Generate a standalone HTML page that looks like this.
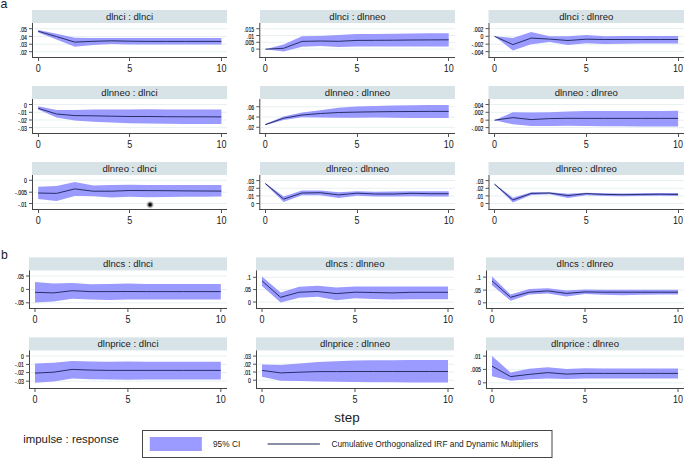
<!DOCTYPE html>
<html><head><meta charset="utf-8"><style>
html,body{margin:0;padding:0;background:#fff;}
svg{display:block;}
text{font-family:"Liberation Sans", sans-serif;fill:#1a1a1a;}
.ht{font-size:9.55px;text-anchor:middle;}
.yt{font-size:6.4px;text-anchor:end;fill:#000;stroke:#000;stroke-width:0.12px;}
.xt{font-size:10px;text-anchor:middle;}
</style></head><body>
<svg width="685" height="459" viewBox="0 0 685 459">
<rect width="685" height="459" fill="#fff"/>
<text x="0.4" y="8.3" style="font-size:13.3px" textLength="6.9" lengthAdjust="spacingAndGlyphs">a</text>
<text x="1.0" y="259" style="font-size:13.2px" textLength="6.8" lengthAdjust="spacingAndGlyphs">b</text>
<rect x="32" y="10" width="195" height="13" fill="#d8e3e8"/>
<text x="129.5" y="19.9" class="ht">dlnci : dlnci</text>
<line x1="33.5" x2="227" y1="28.7" y2="28.7" stroke="#e8f0f1" stroke-width="1"/>
<line x1="33.5" x2="227" y1="36.4" y2="36.4" stroke="#e8f0f1" stroke-width="1"/>
<line x1="33.5" x2="227" y1="44.2" y2="44.2" stroke="#e8f0f1" stroke-width="1"/>
<line x1="33.5" x2="227" y1="51.7" y2="51.7" stroke="#e8f0f1" stroke-width="1"/>
<polygon points="38.2,29.9 56.52,33.8 74.84,37.8 93.16,38 111.48,38 129.8,38.1 148.12,38.1 166.44,38.1 184.76,38.1 203.08,38.1 221.4,38.1 221.4,44.6 203.08,44.6 184.76,44.6 166.44,44.6 148.12,44.6 129.8,44.4 111.48,43.9 93.16,45 74.84,46.8 56.52,39.6 38.2,32.5" fill="#9a9aff"/>
<polyline points="38.2,31.2 56.52,36.6 74.84,42.1 93.16,41.3 111.48,40.8 129.8,41.2 148.12,41.4 166.44,41.4 184.76,41.4 203.08,41.4 221.4,41.4" fill="none" stroke="#1a2258" stroke-width="0.9" stroke-linejoin="round"/>
<line x1="32.5" x2="32.5" y1="23" y2="58" stroke="#454545" stroke-width="1"/>
<line x1="32" x2="227" y1="57.5" y2="57.5" stroke="#454545" stroke-width="1"/>
<line x1="29" x2="32.5" y1="28.7" y2="28.7" stroke="#555555" stroke-width="1"/>
<text x="26.9" y="31.8" class="yt" textLength="7.19" lengthAdjust="spacingAndGlyphs">.05</text>
<line x1="29" x2="32.5" y1="36.4" y2="36.4" stroke="#555555" stroke-width="1"/>
<text x="26.9" y="39.5" class="yt" textLength="7.19" lengthAdjust="spacingAndGlyphs">.04</text>
<line x1="29" x2="32.5" y1="44.2" y2="44.2" stroke="#555555" stroke-width="1"/>
<text x="26.9" y="47.3" class="yt" textLength="7.19" lengthAdjust="spacingAndGlyphs">.03</text>
<line x1="29" x2="32.5" y1="51.7" y2="51.7" stroke="#555555" stroke-width="1"/>
<text x="26.9" y="54.8" class="yt" textLength="7.19" lengthAdjust="spacingAndGlyphs">.02</text>
<line x1="38.5" x2="38.5" y1="57.5" y2="61" stroke="#555555" stroke-width="1"/>
<text x="38.2" y="71.6" class="xt" textLength="5" lengthAdjust="spacingAndGlyphs">0</text>
<line x1="129.5" x2="129.5" y1="57.5" y2="61" stroke="#555555" stroke-width="1"/>
<text x="129.8" y="71.6" class="xt" textLength="5" lengthAdjust="spacingAndGlyphs">5</text>
<line x1="221.5" x2="221.5" y1="57.5" y2="61" stroke="#555555" stroke-width="1"/>
<text x="221.4" y="71.6" class="xt" textLength="10.01" lengthAdjust="spacingAndGlyphs">10</text>
<rect x="260" y="10" width="195" height="13" fill="#d8e3e8"/>
<text x="357.5" y="19.9" class="ht">dlnci : dlnneo</text>
<line x1="260.8" x2="455" y1="28.7" y2="28.7" stroke="#e8f0f1" stroke-width="1"/>
<line x1="260.8" x2="455" y1="35.5" y2="35.5" stroke="#e8f0f1" stroke-width="1"/>
<line x1="260.8" x2="455" y1="42.3" y2="42.3" stroke="#e8f0f1" stroke-width="1"/>
<line x1="260.8" x2="455" y1="49.1" y2="49.1" stroke="#e8f0f1" stroke-width="1"/>
<polygon points="265.3,49.2 283.64,44.6 301.98,36.2 320.32,35.9 338.66,35.1 357,34.1 375.34,33.9 393.68,33.7 412.02,33.5 430.36,33.3 448.7,33.2 448.7,46.5 430.36,46.5 412.02,46.5 393.68,46.5 375.34,46.5 357,46.5 338.66,47.1 320.32,46.1 301.98,46.8 283.64,51.6 265.3,49.2" fill="#9a9aff"/>
<polyline points="265.3,49.2 283.64,48.3 301.98,41.4 320.32,41 338.66,41.3 357,40.4 375.34,40.3 393.68,40.2 412.02,40 430.36,39.9 448.7,39.8" fill="none" stroke="#1a2258" stroke-width="0.9" stroke-linejoin="round"/>
<line x1="259.8" x2="259.8" y1="23" y2="58" stroke="#454545" stroke-width="1"/>
<line x1="259.3" x2="455" y1="57.5" y2="57.5" stroke="#454545" stroke-width="1"/>
<line x1="256.3" x2="259.8" y1="28.7" y2="28.7" stroke="#555555" stroke-width="1"/>
<text x="254.2" y="31.8" class="yt" textLength="10.06" lengthAdjust="spacingAndGlyphs">.015</text>
<line x1="256.3" x2="259.8" y1="35.5" y2="35.5" stroke="#555555" stroke-width="1"/>
<text x="254.2" y="38.6" class="yt" textLength="7.19" lengthAdjust="spacingAndGlyphs">.01</text>
<line x1="256.3" x2="259.8" y1="42.3" y2="42.3" stroke="#555555" stroke-width="1"/>
<text x="254.2" y="45.4" class="yt" textLength="10.06" lengthAdjust="spacingAndGlyphs">.005</text>
<line x1="256.3" x2="259.8" y1="49.1" y2="49.1" stroke="#555555" stroke-width="1"/>
<text x="254.2" y="52.2" class="yt" textLength="2.88" lengthAdjust="spacingAndGlyphs">0</text>
<line x1="265.5" x2="265.5" y1="57.5" y2="61" stroke="#555555" stroke-width="1"/>
<text x="265.3" y="71.6" class="xt" textLength="5" lengthAdjust="spacingAndGlyphs">0</text>
<line x1="357.5" x2="357.5" y1="57.5" y2="61" stroke="#555555" stroke-width="1"/>
<text x="357" y="71.6" class="xt" textLength="5" lengthAdjust="spacingAndGlyphs">5</text>
<line x1="448.5" x2="448.5" y1="57.5" y2="61" stroke="#555555" stroke-width="1"/>
<text x="448.7" y="71.6" class="xt" textLength="10.01" lengthAdjust="spacingAndGlyphs">10</text>
<rect x="488.5" y="10" width="195.5" height="13" fill="#d8e3e8"/>
<text x="586.25" y="19.9" class="ht">dlnci : dlnreo</text>
<line x1="490" x2="684" y1="28.6" y2="28.6" stroke="#e8f0f1" stroke-width="1"/>
<line x1="490" x2="684" y1="36.3" y2="36.3" stroke="#e8f0f1" stroke-width="1"/>
<line x1="490" x2="684" y1="44.2" y2="44.2" stroke="#e8f0f1" stroke-width="1"/>
<line x1="490" x2="684" y1="51.6" y2="51.6" stroke="#e8f0f1" stroke-width="1"/>
<polygon points="494.5,36.3 512.86,38.1 531.22,31.9 549.58,36.2 567.94,36.2 586.3,35.1 604.66,36.2 623.02,36 641.38,36 659.74,35.9 678.1,35.9 678.1,43.6 659.74,43.6 641.38,43.6 623.02,43.7 604.66,43.9 586.3,43.2 567.94,45.1 549.58,42.1 531.22,44.3 512.86,50.5 494.5,36.3" fill="#9a9aff"/>
<polyline points="494.5,36.3 512.86,44.6 531.22,38.1 549.58,39.1 567.94,40.5 586.3,39.2 604.66,39.5 623.02,39.5 641.38,39.5 659.74,39.5 678.1,39.5" fill="none" stroke="#1a2258" stroke-width="0.9" stroke-linejoin="round"/>
<line x1="489" x2="489" y1="23" y2="58" stroke="#454545" stroke-width="1"/>
<line x1="488.5" x2="684" y1="57.5" y2="57.5" stroke="#454545" stroke-width="1"/>
<line x1="485.5" x2="489" y1="28.6" y2="28.6" stroke="#555555" stroke-width="1"/>
<text x="483.4" y="31.7" class="yt" textLength="10.06" lengthAdjust="spacingAndGlyphs">.002</text>
<line x1="485.5" x2="489" y1="36.3" y2="36.3" stroke="#555555" stroke-width="1"/>
<text x="483.4" y="39.4" class="yt" textLength="2.88" lengthAdjust="spacingAndGlyphs">0</text>
<line x1="485.5" x2="489" y1="44.2" y2="44.2" stroke="#555555" stroke-width="1"/>
<text x="483.4" y="47.3" class="yt" textLength="11.78" lengthAdjust="spacingAndGlyphs">-.002</text>
<line x1="485.5" x2="489" y1="51.6" y2="51.6" stroke="#555555" stroke-width="1"/>
<text x="483.4" y="54.7" class="yt" textLength="11.78" lengthAdjust="spacingAndGlyphs">-.004</text>
<line x1="494.5" x2="494.5" y1="57.5" y2="61" stroke="#555555" stroke-width="1"/>
<text x="494.5" y="71.6" class="xt" textLength="5" lengthAdjust="spacingAndGlyphs">0</text>
<line x1="586.5" x2="586.5" y1="57.5" y2="61" stroke="#555555" stroke-width="1"/>
<text x="586.3" y="71.6" class="xt" textLength="5" lengthAdjust="spacingAndGlyphs">5</text>
<line x1="678.5" x2="678.5" y1="57.5" y2="61" stroke="#555555" stroke-width="1"/>
<text x="678.1" y="71.6" class="xt" textLength="10.01" lengthAdjust="spacingAndGlyphs">10</text>
<rect x="32" y="86" width="195" height="13" fill="#d8e3e8"/>
<text x="129.5" y="95.9" class="ht">dlnneo : dlnci</text>
<line x1="33.5" x2="227" y1="104.5" y2="104.5" stroke="#e8f0f1" stroke-width="1"/>
<line x1="33.5" x2="227" y1="112.3" y2="112.3" stroke="#e8f0f1" stroke-width="1"/>
<line x1="33.5" x2="227" y1="120" y2="120" stroke="#e8f0f1" stroke-width="1"/>
<line x1="33.5" x2="227" y1="127.6" y2="127.6" stroke="#e8f0f1" stroke-width="1"/>
<polygon points="38.2,106.3 56.52,110.1 74.84,110.1 93.16,109.6 111.48,109.6 129.8,109.6 148.12,109.3 166.44,109.4 184.76,109.5 203.08,109.5 221.4,109.5 221.4,124.1 203.08,124.1 184.76,124 166.44,123.8 148.12,123.6 129.8,123.2 111.48,122.6 93.16,121.7 74.84,120.6 56.52,117.5 38.2,109.6" fill="#9a9aff"/>
<polyline points="38.2,108.3 56.52,114 74.84,115.6 93.16,115.8 111.48,116.2 129.8,116.5 148.12,116.5 166.44,116.7 184.76,116.8 203.08,116.8 221.4,116.9" fill="none" stroke="#1a2258" stroke-width="0.9" stroke-linejoin="round"/>
<line x1="32.5" x2="32.5" y1="99" y2="134" stroke="#454545" stroke-width="1"/>
<line x1="32" x2="227" y1="133.5" y2="133.5" stroke="#454545" stroke-width="1"/>
<line x1="29" x2="32.5" y1="104.5" y2="104.5" stroke="#555555" stroke-width="1"/>
<text x="26.9" y="107.6" class="yt" textLength="2.88" lengthAdjust="spacingAndGlyphs">0</text>
<line x1="29" x2="32.5" y1="112.3" y2="112.3" stroke="#555555" stroke-width="1"/>
<text x="26.9" y="115.4" class="yt" textLength="8.91" lengthAdjust="spacingAndGlyphs">-.01</text>
<line x1="29" x2="32.5" y1="120" y2="120" stroke="#555555" stroke-width="1"/>
<text x="26.9" y="123.1" class="yt" textLength="8.91" lengthAdjust="spacingAndGlyphs">-.02</text>
<line x1="29" x2="32.5" y1="127.6" y2="127.6" stroke="#555555" stroke-width="1"/>
<text x="26.9" y="130.7" class="yt" textLength="8.91" lengthAdjust="spacingAndGlyphs">-.03</text>
<line x1="38.5" x2="38.5" y1="133.5" y2="137" stroke="#555555" stroke-width="1"/>
<text x="38.2" y="147.6" class="xt" textLength="5" lengthAdjust="spacingAndGlyphs">0</text>
<line x1="129.5" x2="129.5" y1="133.5" y2="137" stroke="#555555" stroke-width="1"/>
<text x="129.8" y="147.6" class="xt" textLength="5" lengthAdjust="spacingAndGlyphs">5</text>
<line x1="221.5" x2="221.5" y1="133.5" y2="137" stroke="#555555" stroke-width="1"/>
<text x="221.4" y="147.6" class="xt" textLength="10.01" lengthAdjust="spacingAndGlyphs">10</text>
<rect x="260" y="86" width="195" height="13" fill="#d8e3e8"/>
<text x="357.5" y="95.9" class="ht">dlnneo : dlnneo</text>
<line x1="260.8" x2="455" y1="106.7" y2="106.7" stroke="#e8f0f1" stroke-width="1"/>
<line x1="260.8" x2="455" y1="117" y2="117" stroke="#e8f0f1" stroke-width="1"/>
<line x1="260.8" x2="455" y1="127.3" y2="127.3" stroke="#e8f0f1" stroke-width="1"/>
<polygon points="265.3,124 283.64,116.4 301.98,112.5 320.32,110.3 338.66,107.7 357,106.6 375.34,106 393.68,105.6 412.02,105.3 430.36,105.1 448.7,105 448.7,118.1 430.36,118 412.02,117.9 393.68,117.7 375.34,117.6 357,117.8 338.66,117.8 320.32,117.4 301.98,117.3 283.64,120 265.3,125.2" fill="#9a9aff"/>
<polyline points="265.3,124.6 283.64,118.2 301.98,115 320.32,113.5 338.66,112.5 357,112.1 375.34,111.8 393.68,111.6 412.02,111.5 430.36,111.4 448.7,111.4" fill="none" stroke="#1a2258" stroke-width="0.9" stroke-linejoin="round"/>
<line x1="259.8" x2="259.8" y1="99" y2="134" stroke="#454545" stroke-width="1"/>
<line x1="259.3" x2="455" y1="133.5" y2="133.5" stroke="#454545" stroke-width="1"/>
<line x1="256.3" x2="259.8" y1="106.7" y2="106.7" stroke="#555555" stroke-width="1"/>
<text x="254.2" y="109.8" class="yt" textLength="7.19" lengthAdjust="spacingAndGlyphs">.06</text>
<line x1="256.3" x2="259.8" y1="117" y2="117" stroke="#555555" stroke-width="1"/>
<text x="254.2" y="120.1" class="yt" textLength="7.19" lengthAdjust="spacingAndGlyphs">.04</text>
<line x1="256.3" x2="259.8" y1="127.3" y2="127.3" stroke="#555555" stroke-width="1"/>
<text x="254.2" y="130.4" class="yt" textLength="7.19" lengthAdjust="spacingAndGlyphs">.02</text>
<line x1="265.5" x2="265.5" y1="133.5" y2="137" stroke="#555555" stroke-width="1"/>
<text x="265.3" y="147.6" class="xt" textLength="5" lengthAdjust="spacingAndGlyphs">0</text>
<line x1="357.5" x2="357.5" y1="133.5" y2="137" stroke="#555555" stroke-width="1"/>
<text x="357" y="147.6" class="xt" textLength="5" lengthAdjust="spacingAndGlyphs">5</text>
<line x1="448.5" x2="448.5" y1="133.5" y2="137" stroke="#555555" stroke-width="1"/>
<text x="448.7" y="147.6" class="xt" textLength="10.01" lengthAdjust="spacingAndGlyphs">10</text>
<rect x="488.5" y="86" width="195.5" height="13" fill="#d8e3e8"/>
<text x="586.25" y="95.9" class="ht">dlnneo : dlnreo</text>
<line x1="490" x2="684" y1="104.5" y2="104.5" stroke="#e8f0f1" stroke-width="1"/>
<line x1="490" x2="684" y1="112.3" y2="112.3" stroke="#e8f0f1" stroke-width="1"/>
<line x1="490" x2="684" y1="120.2" y2="120.2" stroke="#e8f0f1" stroke-width="1"/>
<line x1="490" x2="684" y1="127.6" y2="127.6" stroke="#e8f0f1" stroke-width="1"/>
<polygon points="494.5,120.2 512.86,112.2 531.22,112.6 549.58,112.2 567.94,111.4 586.3,111.1 604.66,111 623.02,111 641.38,110.9 659.74,110.9 678.1,110.8 678.1,126.6 659.74,126.5 641.38,126.4 623.02,126.3 604.66,126.2 586.3,126 567.94,125.8 549.58,126 531.22,126.1 512.86,124.3 494.5,120.2" fill="#9a9aff"/>
<polyline points="494.5,120.2 512.86,117.6 531.22,119.6 549.58,118.6 567.94,118.3 586.3,118.4 604.66,118.4 623.02,118.4 641.38,118.4 659.74,118.4 678.1,118.4" fill="none" stroke="#1a2258" stroke-width="0.9" stroke-linejoin="round"/>
<line x1="489" x2="489" y1="99" y2="134" stroke="#454545" stroke-width="1"/>
<line x1="488.5" x2="684" y1="133.5" y2="133.5" stroke="#454545" stroke-width="1"/>
<line x1="485.5" x2="489" y1="104.5" y2="104.5" stroke="#555555" stroke-width="1"/>
<text x="483.4" y="107.6" class="yt" textLength="10.06" lengthAdjust="spacingAndGlyphs">.004</text>
<line x1="485.5" x2="489" y1="112.3" y2="112.3" stroke="#555555" stroke-width="1"/>
<text x="483.4" y="115.4" class="yt" textLength="10.06" lengthAdjust="spacingAndGlyphs">.002</text>
<line x1="485.5" x2="489" y1="120.2" y2="120.2" stroke="#555555" stroke-width="1"/>
<text x="483.4" y="123.3" class="yt" textLength="2.88" lengthAdjust="spacingAndGlyphs">0</text>
<line x1="485.5" x2="489" y1="127.6" y2="127.6" stroke="#555555" stroke-width="1"/>
<text x="483.4" y="130.7" class="yt" textLength="11.78" lengthAdjust="spacingAndGlyphs">-.002</text>
<line x1="494.5" x2="494.5" y1="133.5" y2="137" stroke="#555555" stroke-width="1"/>
<text x="494.5" y="147.6" class="xt" textLength="5" lengthAdjust="spacingAndGlyphs">0</text>
<line x1="586.5" x2="586.5" y1="133.5" y2="137" stroke="#555555" stroke-width="1"/>
<text x="586.3" y="147.6" class="xt" textLength="5" lengthAdjust="spacingAndGlyphs">5</text>
<line x1="678.5" x2="678.5" y1="133.5" y2="137" stroke="#555555" stroke-width="1"/>
<text x="678.1" y="147.6" class="xt" textLength="10.01" lengthAdjust="spacingAndGlyphs">10</text>
<rect x="32" y="162" width="195" height="13" fill="#d8e3e8"/>
<text x="129.5" y="171.9" class="ht">dlnreo : dlnci</text>
<line x1="33.5" x2="227" y1="180.3" y2="180.3" stroke="#e8f0f1" stroke-width="1"/>
<line x1="33.5" x2="227" y1="192.2" y2="192.2" stroke="#e8f0f1" stroke-width="1"/>
<line x1="33.5" x2="227" y1="203.5" y2="203.5" stroke="#e8f0f1" stroke-width="1"/>
<polygon points="38.2,186.8 56.52,186 74.84,182 93.16,185.4 111.48,185 129.8,184.8 148.12,185 166.44,185 184.76,185 203.08,185 221.4,185 221.4,196.6 203.08,196.7 184.76,196.8 166.44,197 148.12,197.2 129.8,196.8 111.48,197.4 93.16,196.2 74.84,195.9 56.52,201 38.2,199.1" fill="#9a9aff"/>
<polyline points="38.2,193 56.52,193.4 74.84,188.9 93.16,191.2 111.48,191.2 129.8,190.5 148.12,190.6 166.44,190.7 184.76,190.9 203.08,191 221.4,191.1" fill="none" stroke="#1a2258" stroke-width="0.9" stroke-linejoin="round"/>
<line x1="32.5" x2="32.5" y1="175" y2="210" stroke="#454545" stroke-width="1"/>
<line x1="32" x2="227" y1="209.5" y2="209.5" stroke="#454545" stroke-width="1"/>
<line x1="29" x2="32.5" y1="180.3" y2="180.3" stroke="#555555" stroke-width="1"/>
<text x="26.9" y="183.4" class="yt" textLength="2.88" lengthAdjust="spacingAndGlyphs">0</text>
<line x1="29" x2="32.5" y1="192.2" y2="192.2" stroke="#555555" stroke-width="1"/>
<text x="26.9" y="195.3" class="yt" textLength="11.78" lengthAdjust="spacingAndGlyphs">-.005</text>
<line x1="29" x2="32.5" y1="203.5" y2="203.5" stroke="#555555" stroke-width="1"/>
<text x="26.9" y="206.6" class="yt" textLength="8.91" lengthAdjust="spacingAndGlyphs">-.01</text>
<line x1="38.5" x2="38.5" y1="209.5" y2="213" stroke="#555555" stroke-width="1"/>
<text x="38.2" y="223.6" class="xt" textLength="5" lengthAdjust="spacingAndGlyphs">0</text>
<line x1="129.5" x2="129.5" y1="209.5" y2="213" stroke="#555555" stroke-width="1"/>
<text x="129.8" y="223.6" class="xt" textLength="5" lengthAdjust="spacingAndGlyphs">5</text>
<line x1="221.5" x2="221.5" y1="209.5" y2="213" stroke="#555555" stroke-width="1"/>
<text x="221.4" y="223.6" class="xt" textLength="10.01" lengthAdjust="spacingAndGlyphs">10</text>
<rect x="260" y="162" width="195" height="13" fill="#d8e3e8"/>
<text x="357.5" y="171.9" class="ht">dlnreo : dlnneo</text>
<line x1="260.8" x2="455" y1="180.6" y2="180.6" stroke="#e8f0f1" stroke-width="1"/>
<line x1="260.8" x2="455" y1="188.3" y2="188.3" stroke="#e8f0f1" stroke-width="1"/>
<line x1="260.8" x2="455" y1="195.9" y2="195.9" stroke="#e8f0f1" stroke-width="1"/>
<line x1="260.8" x2="455" y1="203.5" y2="203.5" stroke="#e8f0f1" stroke-width="1"/>
<polygon points="265.3,183 283.64,196.6 301.98,190.5 320.32,190.5 338.66,192.2 357,191.2 375.34,191.8 393.68,191.6 412.02,191.2 430.36,191.2 448.7,191.2 448.7,196.6 430.36,196.6 412.02,196.2 393.68,196.6 375.34,196.6 357,195.8 338.66,198.1 320.32,195.2 301.98,195.2 283.64,202 265.3,184.2" fill="#9a9aff"/>
<polyline points="265.3,183.5 283.64,199.1 301.98,193 320.32,192.7 338.66,194.9 357,193.2 375.34,194 393.68,194 412.02,193.3 430.36,193.7 448.7,193.7" fill="none" stroke="#1a2258" stroke-width="0.9" stroke-linejoin="round"/>
<line x1="259.8" x2="259.8" y1="175" y2="210" stroke="#454545" stroke-width="1"/>
<line x1="259.3" x2="455" y1="209.5" y2="209.5" stroke="#454545" stroke-width="1"/>
<line x1="256.3" x2="259.8" y1="180.6" y2="180.6" stroke="#555555" stroke-width="1"/>
<text x="254.2" y="183.7" class="yt" textLength="7.19" lengthAdjust="spacingAndGlyphs">.03</text>
<line x1="256.3" x2="259.8" y1="188.3" y2="188.3" stroke="#555555" stroke-width="1"/>
<text x="254.2" y="191.4" class="yt" textLength="7.19" lengthAdjust="spacingAndGlyphs">.02</text>
<line x1="256.3" x2="259.8" y1="195.9" y2="195.9" stroke="#555555" stroke-width="1"/>
<text x="254.2" y="199" class="yt" textLength="7.19" lengthAdjust="spacingAndGlyphs">.01</text>
<line x1="256.3" x2="259.8" y1="203.5" y2="203.5" stroke="#555555" stroke-width="1"/>
<text x="254.2" y="206.6" class="yt" textLength="2.88" lengthAdjust="spacingAndGlyphs">0</text>
<line x1="265.5" x2="265.5" y1="209.5" y2="213" stroke="#555555" stroke-width="1"/>
<text x="265.3" y="223.6" class="xt" textLength="5" lengthAdjust="spacingAndGlyphs">0</text>
<line x1="357.5" x2="357.5" y1="209.5" y2="213" stroke="#555555" stroke-width="1"/>
<text x="357" y="223.6" class="xt" textLength="5" lengthAdjust="spacingAndGlyphs">5</text>
<line x1="448.5" x2="448.5" y1="209.5" y2="213" stroke="#555555" stroke-width="1"/>
<text x="448.7" y="223.6" class="xt" textLength="10.01" lengthAdjust="spacingAndGlyphs">10</text>
<rect x="488.5" y="162" width="195.5" height="13" fill="#d8e3e8"/>
<text x="586.25" y="171.9" class="ht">dlnreo : dlnreo</text>
<line x1="490" x2="684" y1="180.6" y2="180.6" stroke="#e8f0f1" stroke-width="1"/>
<line x1="490" x2="684" y1="188.3" y2="188.3" stroke="#e8f0f1" stroke-width="1"/>
<line x1="490" x2="684" y1="195.9" y2="195.9" stroke="#e8f0f1" stroke-width="1"/>
<line x1="490" x2="684" y1="203.5" y2="203.5" stroke="#e8f0f1" stroke-width="1"/>
<polygon points="494.5,183.8 512.86,197.8 531.22,192.2 549.58,192.2 567.94,193.7 586.3,192.8 604.66,193.2 623.02,193.4 641.38,193.2 659.74,193 678.1,193.1 678.1,196 659.74,195.8 641.38,196 623.02,196.3 604.66,196 586.3,195.2 567.94,198.1 549.58,194.2 531.22,194.9 512.86,202.5 494.5,184.6" fill="#9a9aff"/>
<polyline points="494.5,184.2 512.86,200 531.22,193.4 549.58,193 567.94,195.6 586.3,193.6 604.66,194.4 623.02,194.7 641.38,194.4 659.74,194.2 678.1,194.4" fill="none" stroke="#1a2258" stroke-width="0.9" stroke-linejoin="round"/>
<line x1="489" x2="489" y1="175" y2="210" stroke="#454545" stroke-width="1"/>
<line x1="488.5" x2="684" y1="209.5" y2="209.5" stroke="#454545" stroke-width="1"/>
<line x1="485.5" x2="489" y1="180.6" y2="180.6" stroke="#555555" stroke-width="1"/>
<text x="483.4" y="183.7" class="yt" textLength="7.19" lengthAdjust="spacingAndGlyphs">.03</text>
<line x1="485.5" x2="489" y1="188.3" y2="188.3" stroke="#555555" stroke-width="1"/>
<text x="483.4" y="191.4" class="yt" textLength="7.19" lengthAdjust="spacingAndGlyphs">.02</text>
<line x1="485.5" x2="489" y1="195.9" y2="195.9" stroke="#555555" stroke-width="1"/>
<text x="483.4" y="199" class="yt" textLength="7.19" lengthAdjust="spacingAndGlyphs">.01</text>
<line x1="485.5" x2="489" y1="203.5" y2="203.5" stroke="#555555" stroke-width="1"/>
<text x="483.4" y="206.6" class="yt" textLength="2.88" lengthAdjust="spacingAndGlyphs">0</text>
<line x1="494.5" x2="494.5" y1="209.5" y2="213" stroke="#555555" stroke-width="1"/>
<text x="494.5" y="223.6" class="xt" textLength="5" lengthAdjust="spacingAndGlyphs">0</text>
<line x1="586.5" x2="586.5" y1="209.5" y2="213" stroke="#555555" stroke-width="1"/>
<text x="586.3" y="223.6" class="xt" textLength="5" lengthAdjust="spacingAndGlyphs">5</text>
<line x1="678.5" x2="678.5" y1="209.5" y2="213" stroke="#555555" stroke-width="1"/>
<text x="678.1" y="223.6" class="xt" textLength="10.01" lengthAdjust="spacingAndGlyphs">10</text>
<rect x="29" y="257.4" width="198" height="13" fill="#d8e3e8"/>
<text x="128" y="266.6" class="ht">dlncs : dlnci</text>
<line x1="30.5" x2="227" y1="276" y2="276" stroke="#e8f0f1" stroke-width="1"/>
<line x1="30.5" x2="227" y1="289.4" y2="289.4" stroke="#e8f0f1" stroke-width="1"/>
<line x1="30.5" x2="227" y1="302.8" y2="302.8" stroke="#e8f0f1" stroke-width="1"/>
<polygon points="35,282.1 53.58,283.6 72.16,283.1 90.74,284.2 109.32,283.9 127.9,283.6 146.48,283.9 165.06,283.9 183.64,283.9 202.22,283.9 220.8,283.9 220.8,299.6 202.22,299.6 183.64,299.6 165.06,299.6 146.48,299.6 127.9,299.6 109.32,299.9 90.74,299.6 72.16,298.8 53.58,301.4 35,302.6" fill="#9a9aff"/>
<polyline points="35,292.3 53.58,292.9 72.16,290.7 90.74,291.6 109.32,291.6 127.9,291.5 146.48,291.6 165.06,291.6 183.64,291.6 202.22,291.6 220.8,291.6" fill="none" stroke="#1a2258" stroke-width="0.9" stroke-linejoin="round"/>
<line x1="29.5" x2="29.5" y1="270.4" y2="309" stroke="#454545" stroke-width="1"/>
<line x1="29" x2="227" y1="308.5" y2="308.5" stroke="#454545" stroke-width="1"/>
<line x1="26" x2="29.5" y1="276" y2="276" stroke="#555555" stroke-width="1"/>
<text x="23.9" y="278.6" class="yt" textLength="7.19" lengthAdjust="spacingAndGlyphs">.05</text>
<line x1="26" x2="29.5" y1="289.4" y2="289.4" stroke="#555555" stroke-width="1"/>
<text x="23.9" y="292" class="yt" textLength="2.88" lengthAdjust="spacingAndGlyphs">0</text>
<line x1="26" x2="29.5" y1="302.8" y2="302.8" stroke="#555555" stroke-width="1"/>
<text x="23.9" y="305.4" class="yt" textLength="8.91" lengthAdjust="spacingAndGlyphs">-.05</text>
<line x1="35" x2="35" y1="308.5" y2="312" stroke="#555555" stroke-width="1"/>
<text x="35" y="322.6" class="xt" textLength="5" lengthAdjust="spacingAndGlyphs">0</text>
<line x1="127.9" x2="127.9" y1="308.5" y2="312" stroke="#555555" stroke-width="1"/>
<text x="127.9" y="322.6" class="xt" textLength="5" lengthAdjust="spacingAndGlyphs">5</text>
<line x1="220.8" x2="220.8" y1="308.5" y2="312" stroke="#555555" stroke-width="1"/>
<text x="220.8" y="322.6" class="xt" textLength="10.01" lengthAdjust="spacingAndGlyphs">10</text>
<rect x="256" y="257.4" width="198" height="13" fill="#d8e3e8"/>
<text x="355" y="266.6" class="ht">dlncs : dlnneo</text>
<line x1="257.5" x2="454" y1="277.3" y2="277.3" stroke="#e8f0f1" stroke-width="1"/>
<line x1="257.5" x2="454" y1="289.6" y2="289.6" stroke="#e8f0f1" stroke-width="1"/>
<line x1="257.5" x2="454" y1="302" y2="302" stroke="#e8f0f1" stroke-width="1"/>
<polygon points="262,276.6 280.6,292.6 299.2,286.8 317.8,285.8 336.4,287.5 355,286.5 373.6,286.4 392.2,286.4 410.8,286.4 429.4,286.4 448,286.4 448,299.2 429.4,299.2 410.8,299.3 392.2,299.6 373.6,299 355,298.3 336.4,300.2 317.8,296.7 299.2,297.7 280.6,302.4 262,286.1" fill="#9a9aff"/>
<polyline points="262,280.9 280.6,297.3 299.2,292.2 317.8,291.5 336.4,293.6 355,292.2 373.6,292.5 392.2,292.9 410.8,292.3 429.4,292.3 448,292.3" fill="none" stroke="#1a2258" stroke-width="0.9" stroke-linejoin="round"/>
<line x1="256.5" x2="256.5" y1="270.4" y2="309" stroke="#454545" stroke-width="1"/>
<line x1="256" x2="454" y1="308.5" y2="308.5" stroke="#454545" stroke-width="1"/>
<line x1="253" x2="256.5" y1="277.3" y2="277.3" stroke="#555555" stroke-width="1"/>
<text x="250.9" y="279.9" class="yt" textLength="4.31" lengthAdjust="spacingAndGlyphs">.1</text>
<line x1="253" x2="256.5" y1="289.6" y2="289.6" stroke="#555555" stroke-width="1"/>
<text x="250.9" y="292.2" class="yt" textLength="7.19" lengthAdjust="spacingAndGlyphs">.05</text>
<line x1="253" x2="256.5" y1="302" y2="302" stroke="#555555" stroke-width="1"/>
<text x="250.9" y="304.6" class="yt" textLength="2.88" lengthAdjust="spacingAndGlyphs">0</text>
<line x1="262" x2="262" y1="308.5" y2="312" stroke="#555555" stroke-width="1"/>
<text x="262" y="322.6" class="xt" textLength="5" lengthAdjust="spacingAndGlyphs">0</text>
<line x1="355" x2="355" y1="308.5" y2="312" stroke="#555555" stroke-width="1"/>
<text x="355" y="322.6" class="xt" textLength="5" lengthAdjust="spacingAndGlyphs">5</text>
<line x1="448" x2="448" y1="308.5" y2="312" stroke="#555555" stroke-width="1"/>
<text x="448" y="322.6" class="xt" textLength="10.01" lengthAdjust="spacingAndGlyphs">10</text>
<rect x="486" y="257.4" width="198" height="13" fill="#d8e3e8"/>
<text x="585" y="266.6" class="ht">dlncs : dlnreo</text>
<line x1="487.5" x2="684" y1="277.1" y2="277.1" stroke="#e8f0f1" stroke-width="1"/>
<line x1="487.5" x2="684" y1="290.1" y2="290.1" stroke="#e8f0f1" stroke-width="1"/>
<line x1="487.5" x2="684" y1="302.8" y2="302.8" stroke="#e8f0f1" stroke-width="1"/>
<polygon points="492,276.6 510.6,294.5 529.2,289 547.8,288.2 566.4,290.4 585,289.5 603.6,289.7 622.2,289.7 640.8,289.7 659.4,289.7 678,289.7 678,294.5 659.4,294.5 640.8,294.8 622.2,295.3 603.6,294.8 585,294 566.4,296.6 547.8,293.4 529.2,294.5 510.6,300.7 492,285.3" fill="#9a9aff"/>
<polyline points="492,280.9 510.6,297.3 529.2,292.2 547.8,290.9 566.4,293.4 585,291.9 603.6,292.2 622.2,292.2 640.8,292.2 659.4,292.2 678,292.2" fill="none" stroke="#1a2258" stroke-width="0.9" stroke-linejoin="round"/>
<line x1="486.5" x2="486.5" y1="270.4" y2="309" stroke="#454545" stroke-width="1"/>
<line x1="486" x2="684" y1="308.5" y2="308.5" stroke="#454545" stroke-width="1"/>
<line x1="483" x2="486.5" y1="277.1" y2="277.1" stroke="#555555" stroke-width="1"/>
<text x="480.9" y="279.7" class="yt" textLength="4.31" lengthAdjust="spacingAndGlyphs">.1</text>
<line x1="483" x2="486.5" y1="290.1" y2="290.1" stroke="#555555" stroke-width="1"/>
<text x="480.9" y="292.7" class="yt" textLength="7.19" lengthAdjust="spacingAndGlyphs">.05</text>
<line x1="483" x2="486.5" y1="302.8" y2="302.8" stroke="#555555" stroke-width="1"/>
<text x="480.9" y="305.4" class="yt" textLength="2.88" lengthAdjust="spacingAndGlyphs">0</text>
<line x1="492" x2="492" y1="308.5" y2="312" stroke="#555555" stroke-width="1"/>
<text x="492" y="322.6" class="xt" textLength="5" lengthAdjust="spacingAndGlyphs">0</text>
<line x1="585" x2="585" y1="308.5" y2="312" stroke="#555555" stroke-width="1"/>
<text x="585" y="322.6" class="xt" textLength="5" lengthAdjust="spacingAndGlyphs">5</text>
<line x1="678" x2="678" y1="308.5" y2="312" stroke="#555555" stroke-width="1"/>
<text x="678" y="322.6" class="xt" textLength="10.01" lengthAdjust="spacingAndGlyphs">10</text>
<rect x="29" y="337.4" width="198" height="13" fill="#d8e3e8"/>
<text x="128" y="346.6" class="ht">dlnprice : dlnci</text>
<line x1="30.5" x2="227" y1="356" y2="356" stroke="#e8f0f1" stroke-width="1"/>
<line x1="30.5" x2="227" y1="364.4" y2="364.4" stroke="#e8f0f1" stroke-width="1"/>
<line x1="30.5" x2="227" y1="372.6" y2="372.6" stroke="#e8f0f1" stroke-width="1"/>
<line x1="30.5" x2="227" y1="381.2" y2="381.2" stroke="#e8f0f1" stroke-width="1"/>
<polygon points="35,363.4 53.58,362.8 72.16,360.9 90.74,361.4 109.32,361.7 127.9,361.6 146.48,361.7 165.06,361.7 183.64,361.7 202.22,361.7 220.8,361.7 220.8,379.6 202.22,379.6 183.64,379.6 165.06,379.6 146.48,379.6 127.9,379.8 109.32,379.6 90.74,379.2 72.16,378.5 53.58,381.4 35,382.8" fill="#9a9aff"/>
<polyline points="35,373.1 53.58,372.2 72.16,369.4 90.74,370.1 109.32,370.4 127.9,370.4 146.48,370.4 165.06,370.4 183.64,370.4 202.22,370.4 220.8,370.4" fill="none" stroke="#1a2258" stroke-width="0.9" stroke-linejoin="round"/>
<line x1="29.5" x2="29.5" y1="350.4" y2="389" stroke="#454545" stroke-width="1"/>
<line x1="29" x2="227" y1="388.5" y2="388.5" stroke="#454545" stroke-width="1"/>
<line x1="26" x2="29.5" y1="356" y2="356" stroke="#555555" stroke-width="1"/>
<text x="23.9" y="358.6" class="yt" textLength="2.88" lengthAdjust="spacingAndGlyphs">0</text>
<line x1="26" x2="29.5" y1="364.4" y2="364.4" stroke="#555555" stroke-width="1"/>
<text x="23.9" y="367" class="yt" textLength="8.91" lengthAdjust="spacingAndGlyphs">-.01</text>
<line x1="26" x2="29.5" y1="372.6" y2="372.6" stroke="#555555" stroke-width="1"/>
<text x="23.9" y="375.2" class="yt" textLength="8.91" lengthAdjust="spacingAndGlyphs">-.02</text>
<line x1="26" x2="29.5" y1="381.2" y2="381.2" stroke="#555555" stroke-width="1"/>
<text x="23.9" y="383.8" class="yt" textLength="8.91" lengthAdjust="spacingAndGlyphs">-.03</text>
<line x1="35" x2="35" y1="388.5" y2="392" stroke="#555555" stroke-width="1"/>
<text x="35" y="402.6" class="xt" textLength="5" lengthAdjust="spacingAndGlyphs">0</text>
<line x1="127.9" x2="127.9" y1="388.5" y2="392" stroke="#555555" stroke-width="1"/>
<text x="127.9" y="402.6" class="xt" textLength="5" lengthAdjust="spacingAndGlyphs">5</text>
<line x1="220.8" x2="220.8" y1="388.5" y2="392" stroke="#555555" stroke-width="1"/>
<text x="220.8" y="402.6" class="xt" textLength="10.01" lengthAdjust="spacingAndGlyphs">10</text>
<rect x="256" y="337.4" width="198" height="13" fill="#d8e3e8"/>
<text x="355" y="346.6" class="ht">dlnprice : dlnneo</text>
<line x1="257.5" x2="454" y1="356.1" y2="356.1" stroke="#e8f0f1" stroke-width="1"/>
<line x1="257.5" x2="454" y1="364.2" y2="364.2" stroke="#e8f0f1" stroke-width="1"/>
<line x1="257.5" x2="454" y1="372" y2="372" stroke="#e8f0f1" stroke-width="1"/>
<line x1="257.5" x2="454" y1="380.2" y2="380.2" stroke="#e8f0f1" stroke-width="1"/>
<polygon points="262,364.6 280.6,365 299.2,363.4 317.8,362.1 336.4,361.2 355,360.4 373.6,360.3 392.2,360.2 410.8,360.1 429.4,360 448,359.9 448,382.4 429.4,382.4 410.8,382.4 392.2,382.3 373.6,382.2 355,382.1 336.4,381.7 317.8,381.4 299.2,381.1 280.6,380.7 262,376.7" fill="#9a9aff"/>
<polyline points="262,370.4 280.6,372.9 299.2,372.2 317.8,371.6 336.4,371.6 355,371.5 373.6,371.5 392.2,371.5 410.8,371.5 429.4,371.5 448,371.5" fill="none" stroke="#1a2258" stroke-width="0.9" stroke-linejoin="round"/>
<line x1="256.5" x2="256.5" y1="350.4" y2="389" stroke="#454545" stroke-width="1"/>
<line x1="256" x2="454" y1="388.5" y2="388.5" stroke="#454545" stroke-width="1"/>
<line x1="253" x2="256.5" y1="356.1" y2="356.1" stroke="#555555" stroke-width="1"/>
<text x="250.9" y="358.7" class="yt" textLength="7.19" lengthAdjust="spacingAndGlyphs">.03</text>
<line x1="253" x2="256.5" y1="364.2" y2="364.2" stroke="#555555" stroke-width="1"/>
<text x="250.9" y="366.8" class="yt" textLength="7.19" lengthAdjust="spacingAndGlyphs">.02</text>
<line x1="253" x2="256.5" y1="372" y2="372" stroke="#555555" stroke-width="1"/>
<text x="250.9" y="374.6" class="yt" textLength="7.19" lengthAdjust="spacingAndGlyphs">.01</text>
<line x1="253" x2="256.5" y1="380.2" y2="380.2" stroke="#555555" stroke-width="1"/>
<text x="250.9" y="382.8" class="yt" textLength="2.88" lengthAdjust="spacingAndGlyphs">0</text>
<line x1="262" x2="262" y1="388.5" y2="392" stroke="#555555" stroke-width="1"/>
<text x="262" y="402.6" class="xt" textLength="5" lengthAdjust="spacingAndGlyphs">0</text>
<line x1="355" x2="355" y1="388.5" y2="392" stroke="#555555" stroke-width="1"/>
<text x="355" y="402.6" class="xt" textLength="5" lengthAdjust="spacingAndGlyphs">5</text>
<line x1="448" x2="448" y1="388.5" y2="392" stroke="#555555" stroke-width="1"/>
<text x="448" y="402.6" class="xt" textLength="10.01" lengthAdjust="spacingAndGlyphs">10</text>
<rect x="486" y="337.4" width="198" height="13" fill="#d8e3e8"/>
<text x="585" y="346.6" class="ht">dlnprice : dlnreo</text>
<line x1="487.5" x2="684" y1="356.1" y2="356.1" stroke="#e8f0f1" stroke-width="1"/>
<line x1="487.5" x2="684" y1="369.4" y2="369.4" stroke="#e8f0f1" stroke-width="1"/>
<line x1="487.5" x2="684" y1="382.8" y2="382.8" stroke="#e8f0f1" stroke-width="1"/>
<polygon points="492,356.1 510.6,372.6 529.2,368.7 547.8,367.2 566.4,369 585,368.3 603.6,368.5 622.2,368.5 640.8,368.5 659.4,368.5 678,368.5 678,378.5 659.4,378.5 640.8,378.5 622.2,378.5 603.6,378.5 585,378.5 566.4,378.9 547.8,378.5 529.2,379.2 510.6,380.7 492,376.3" fill="#9a9aff"/>
<polyline points="492,366.1 510.6,376.6 529.2,374.4 547.8,372.6 566.4,374.1 585,373.4 603.6,373.4 622.2,373.4 640.8,373.4 659.4,373.4 678,373.4" fill="none" stroke="#1a2258" stroke-width="0.9" stroke-linejoin="round"/>
<line x1="486.5" x2="486.5" y1="350.4" y2="389" stroke="#454545" stroke-width="1"/>
<line x1="486" x2="684" y1="388.5" y2="388.5" stroke="#454545" stroke-width="1"/>
<line x1="483" x2="486.5" y1="356.1" y2="356.1" stroke="#555555" stroke-width="1"/>
<text x="480.9" y="358.7" class="yt" textLength="7.19" lengthAdjust="spacingAndGlyphs">.01</text>
<line x1="483" x2="486.5" y1="369.4" y2="369.4" stroke="#555555" stroke-width="1"/>
<text x="480.9" y="372" class="yt" textLength="10.06" lengthAdjust="spacingAndGlyphs">.005</text>
<line x1="483" x2="486.5" y1="382.8" y2="382.8" stroke="#555555" stroke-width="1"/>
<text x="480.9" y="385.4" class="yt" textLength="2.88" lengthAdjust="spacingAndGlyphs">0</text>
<line x1="492" x2="492" y1="388.5" y2="392" stroke="#555555" stroke-width="1"/>
<text x="492" y="402.6" class="xt" textLength="5" lengthAdjust="spacingAndGlyphs">0</text>
<line x1="585" x2="585" y1="388.5" y2="392" stroke="#555555" stroke-width="1"/>
<text x="585" y="402.6" class="xt" textLength="5" lengthAdjust="spacingAndGlyphs">5</text>
<line x1="678" x2="678" y1="388.5" y2="392" stroke="#555555" stroke-width="1"/>
<text x="678" y="402.6" class="xt" textLength="10.01" lengthAdjust="spacingAndGlyphs">10</text>
<defs><radialGradient id="dot"><stop offset="0" stop-color="#000"/><stop offset="0.22" stop-color="#000"/><stop offset="0.5" stop-color="#000" stop-opacity="0.5"/><stop offset="0.75" stop-color="#000" stop-opacity="0.12"/><stop offset="1" stop-color="#000" stop-opacity="0"/></radialGradient></defs>
<circle cx="150.1" cy="204.7" r="4.4" fill="url(#dot)"/>
<text x="347" y="421.7" style="font-size:13.4px;text-anchor:middle">step</text>
<text x="23.2" y="443" style="font-size:11.4px">impulse : response</text>
<rect x="142.5" y="430.5" width="409.5" height="27" fill="none" stroke="#454545" stroke-width="1"/>
<rect x="149.8" y="437" width="52" height="14" fill="#9a9aff"/>
<text x="213" y="447.4" style="font-size:9px" textLength="27.2" lengthAdjust="spacingAndGlyphs">95% CI</text>
<line x1="267.6" x2="319.9" y1="444" y2="444" stroke="#182048" stroke-width="1.15"/>
<text x="331.4" y="447.4" style="font-size:9px" textLength="206.7" lengthAdjust="spacingAndGlyphs">Cumulative Orthogonalized IRF and Dynamic Multipliers</text>
</svg>
</body></html>
